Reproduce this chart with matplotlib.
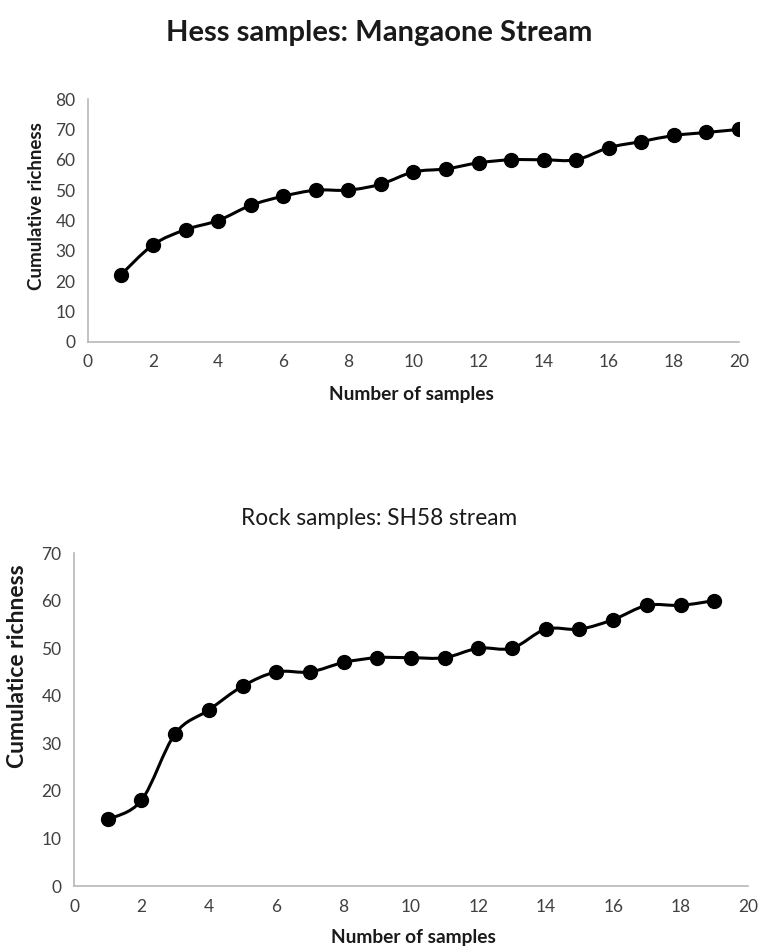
import numpy as np
import matplotlib.pyplot as plt
from matplotlib.path import Path
from matplotlib.patches import PathPatch

# cumulative richness per number of samples
hess_n = [1, 2, 3, 4, 5, 6, 7, 8, 9, 10, 11, 12, 13, 14, 15, 16, 17, 18, 19, 20]
hess_rich = [22, 32, 37, 40, 45, 48, 50, 50, 52, 56, 57, 59, 60, 60, 60, 64, 66, 68, 69, 70]

rock_n = [1, 2, 3, 4, 5, 6, 7, 8, 9, 10, 11, 12, 13, 14, 15, 16, 17, 18, 19]
rock_rich = [14, 18, 32, 37, 42, 45, 45, 47, 48, 48, 48, 50, 50, 54, 54, 56, 59, 59, 60]

FONT = ["Lato", "DejaVu Sans"]
plt.rcParams["font.family"] = FONT


def smooth_path(x, y):
    """Excel-style smoothed line: cubic Bezier segments through every point."""
    pts = np.column_stack([x, y]).astype(float)
    n = len(pts)
    verts = [pts[0]]
    codes = [Path.MOVETO]
    for i in range(n - 1):
        p0 = pts[max(i - 1, 0)]
        p1 = pts[i]
        p2 = pts[i + 1]
        p3 = pts[min(i + 2, n - 1)]
        c1 = p1 + (p2 - p0) / 6.0
        c2 = p2 - (p3 - p1) / 6.0
        verts += [c1, c2, p2]
        codes += [Path.CURVE4] * 3
    return Path(verts, codes)


def draw_curve(ax, x, y, ymax, ystep):
    ax.add_patch(PathPatch(smooth_path(x, y), fill=False, lw=2.2,
                           edgecolor="black", capstyle="round", zorder=2))
    ax.plot(x, y, "o", color="black", ms=10, zorder=3)
    ax.set_xlim(0, 20)
    ax.set_ylim(0, ymax)
    ax.set_xticks(range(0, 21, 2))
    ax.set_yticks(range(0, ymax + 1, ystep))
    for s in ["top", "right"]:
        ax.spines[s].set_visible(False)
    for s in ["left", "bottom"]:
        ax.spines[s].set_color("#b8b8b8")
        ax.spines[s].set_linewidth(1.2)
    ax.tick_params(length=0, labelsize=12.5, labelcolor="#404040", pad=9)


fig = plt.figure(figsize=(7.59, 9.46), dpi=100)

ax1 = fig.add_axes([0.1159, 0.6385, 0.8577, 0.2568])
draw_curve(ax1, hess_n, hess_rich, 80, 10)
fig.text(0.50, 0.965, "Hess samples: Mangaone Stream", ha="center", va="center",
         fontsize=21, fontweight="bold", color="#1a1a1a")
fig.text(0.0487, 0.782, "Cumulative richness", rotation=90, ha="center", va="center",
         fontsize=13.5, fontweight="bold", color="#1a1a1a")
fig.text(0.542, 0.5825, "Number of samples", ha="center", va="center",
         fontsize=13.8, fontweight="bold", color="#1a1a1a")

ax2 = fig.add_axes([0.0975, 0.0634, 0.888, 0.352])
draw_curve(ax2, rock_n, rock_rich, 70, 10)
fig.text(0.50, 0.4524, "Rock samples: SH58 stream", ha="center", va="center",
         fontsize=16.3, color="#1a1a1a")
fig.text(0.0237, 0.296, "Cumulatice richness", rotation=90, ha="center", va="center",
         fontsize=16.5, fontweight="bold", color="#1a1a1a")
fig.text(0.545, 0.0095, "Number of samples", ha="center", va="center",
         fontsize=13.8, fontweight="bold", color="#1a1a1a")

fig.savefig("out.png", dpi=100, facecolor="white")
